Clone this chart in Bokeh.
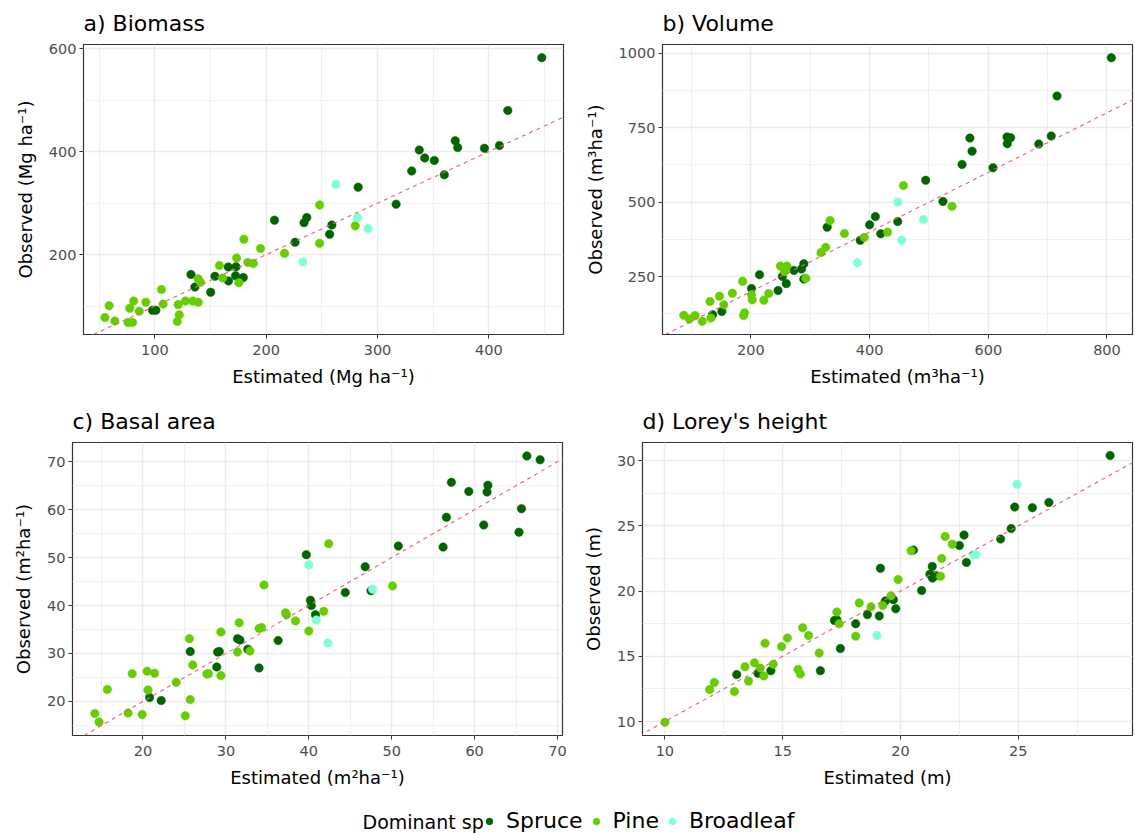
from bokeh.plotting import figure
from bokeh.models import FixedTicker, Slope, Legend, LegendItem, Range1d, Label
from bokeh.layouts import row, column
from bokeh.embed import file_html
from bokeh.resources import INLINE

SPRUCE_C = "#006400"
PINE_C = "#66CD00"
BROAD_C = "#7FFFD4"
LINE_C = "#EE5F72"
FONT = "DejaVu Sans"

legend_title = "Dominant sp"
species_labels = ["Spruce", "Pine", "Broadleaf"]

# ---------------- a) Biomass ----------------
bio_spruce_est = [447.5, 417, 369.8, 372, 396, 409.5, 337.5, 342.4, 351, 330.7, 360, 282.6, 316.7, 207.5, 236.5,
                  234, 259, 257, 226, 132.5, 136, 154, 150.2, 166, 173, 166.2, 172.5, 179.5, 98, 101]
bio_spruce_obs = [582.5, 480, 421, 408, 406.5, 411.7, 403, 387.7, 383, 362.5, 355, 331, 298, 267, 272,
                  262, 257.5, 239.5, 224, 161.5, 137, 158, 127, 176, 176.6, 149, 159, 155.5, 92, 92]
bio_pine_est = [248, 248, 280, 216.5, 195, 180, 173.5, 183.5, 188.5, 158, 161, 175.5, 139, 141, 106, 107.5,
                121, 127.5, 134, 139, 122, 120.2, 92, 81, 77.5, 86, 59, 55.2, 64.2, 76, 80]
bio_pine_obs = [296.5, 222, 256, 202.5, 212, 230, 193.3, 185, 183, 179, 154.6, 145.6, 153, 146.5, 132.3, 104,
                103, 110, 110, 107.6, 83.2, 70.2, 107.6, 110, 96, 90, 101, 77.8, 71.2, 68.4, 68.4]
bio_broad_est = [262.5, 282, 291.5, 233]
bio_broad_obs = [336, 272, 250.5, 186]

# ---------------- b) Volume ----------------
vol_spruce_est = [807.3, 715.8, 569, 572.7, 631.5, 637.6, 632, 706, 685, 555.8, 607.9, 494.5, 523.6, 409.7, 400,
                  447.3, 418.8, 384.2, 328.5, 135.4, 151, 201, 214.5, 245.7, 259.6, 253, 272.4, 285.2, 289.1, 289.1]
vol_spruce_obs = [984.5, 856, 715, 671, 718.6, 716.4, 696.4, 722, 695, 626.6, 615.6, 573.5, 502.6, 451.6, 424,
                  435, 394, 371.9, 416, 122.4, 133.5, 210, 256.7, 203.4, 226.7, 251, 271, 275.5, 293.3, 242]
vol_pine_est = [457, 538.8, 430.3, 391, 357.6, 333.3, 326, 318, 86.9, 96.4, 105.8, 118, 132.6, 131, 147, 154.3,
                168.8, 186, 187.7, 189.4, 201, 202.2, 221.7, 230, 249.6, 260.7, 256.8, 292.5]
vol_pine_obs = [555.7, 486, 399.5, 381.8, 395, 438.3, 348.6, 331, 120.2, 108, 120, 100.3, 111.4, 166.8, 184.6,
                155.7, 194.5, 234.5, 120, 129, 189, 172.4, 171, 193.4, 285.5, 285.5, 266.6, 244.5]
vol_broad_est = [447.3, 490.9, 454, 379.4]
vol_broad_obs = [500.4, 441.6, 371.9, 296.5]

# ---------------- c) Basal area ----------------
ba_spruce_est = [66.3, 67.9, 57.2, 59.3, 61.6, 61.5, 65.65, 56.6, 61.1, 65.35, 56.2, 50.8, 39.7, 46.8, 44.4,
                 47.5, 40.2, 40.3, 40.8, 36.3, 31.4, 31.7, 32.65, 29.0, 29.2, 25.7, 28.9, 34.0, 20.8, 22.2]
ba_spruce_obs = [71.2, 70.4, 65.7, 63.8, 65.1, 63.7, 60.2, 58.4, 56.8, 55.3, 52.2, 52.4, 50.6, 48.1, 42.7,
                 43.1, 41.1, 40.0, 38.1, 32.7, 33.1, 32.8, 30.9, 30.3, 30.4, 30.4, 27.2, 27.0, 20.8, 20.2]
ba_pine_est = [42.4, 50.1, 34.6, 41.8, 37.2, 37.3, 38.4, 40.0, 34.0, 34.3, 31.6, 29.4, 31.4, 32.9, 25.6, 26.0,
               27.7, 27.9, 29.4, 24.0, 25.7, 25.1, 20.5, 21.4, 18.7, 20.6, 15.7, 18.2, 19.9, 14.2, 14.7]
ba_pine_obs = [52.9, 44.1, 44.3, 38.8, 38.5, 38.1, 36.8, 34.7, 35.2, 35.4, 36.4, 34.5, 30.3, 30.5, 33.1, 27.6,
               25.7, 25.8, 25.4, 24.0, 20.4, 17.0, 26.3, 25.9, 25.8, 22.4, 22.5, 17.6, 17.3, 17.5, 15.7]
ba_broad_est = [40.0, 47.7, 40.9, 42.3]
ba_broad_obs = [48.5, 43.4, 37.0, 32.2]

# ---------------- d) Lorey's height ----------------
hl_spruce_est = [28.9, 26.3, 25.6, 24.85, 24.7, 24.25, 22.7, 22.5, 22.8, 20.55, 21.35, 21.25, 21.36, 21.5, 20.9,
                 19.15, 19.8, 19.36, 19.7, 19.1, 18.6, 18.1, 17.2, 17.3, 17.45, 16.6, 14.5, 13.95, 13.05]
hl_spruce_obs = [30.4, 26.8, 26.4, 26.45, 24.8, 24.0, 24.3, 23.5, 22.2, 23.15, 21.9, 21.3, 21.0, 21.2, 20.05,
                 21.75, 18.65, 19.25, 19.35, 18.1, 18.2, 17.5, 17.75, 17.8, 15.6, 13.9, 13.9, 13.7, 13.6]
hl_pine_est = [21.9, 22.2, 20.45, 21.75, 21.7, 19.9, 19.6, 19.25, 18.75, 18.25, 17.3, 17.4, 18.1, 15.85, 16.1,
               15.2, 14.95, 14.25, 16.55, 14.6, 13.8, 14.05, 14.2, 13.4, 13.55, 15.65, 15.75, 12.1, 11.9, 12.95, 10.0]
hl_pine_obs = [24.2, 23.6, 23.1, 22.5, 21.15, 20.9, 19.65, 18.9, 18.8, 19.1, 18.4, 17.5, 16.55, 17.2, 16.6,
               16.4, 15.75, 16.0, 15.25, 14.4, 14.5, 14.1, 13.5, 14.2, 13.1, 14.0, 13.65, 13.0, 12.45, 12.3, 9.95]
hl_broad_est = [24.95, 23.1, 23.2, 19.0]
hl_broad_obs = [28.2, 22.8, 22.8, 16.6]

# tick definitions
bio_xticks, bio_xminor = [100, 200, 300, 400], [50, 150, 250, 350, 450]
bio_yticks, bio_yminor = [200, 400, 600], [100, 300, 500]
vol_xticks, vol_xminor = [200, 400, 600, 800], [100, 300, 500, 700]
vol_yticks, vol_yminor = [250, 500, 750, 1000], [125, 375, 625, 875]
ba_xticks, ba_xminor = [20, 30, 40, 50, 60, 70], [15, 25, 35, 45, 55, 65]
ba_yticks, ba_yminor = [20, 30, 40, 50, 60, 70], [15, 25, 35, 45, 55, 65]
hl_xticks, hl_xminor = [10, 15, 20, 25], [12.5, 17.5, 22.5, 27.5]
hl_yticks, hl_yminor = [10, 15, 20, 25, 30], [12.5, 17.5, 22.5, 27.5]


def panel(title, xlab, ylab, xr, yr, xt, xm, yt, ym, series, width, height, mbl, mbr, mbt, mbb):
    p = figure(width=width, height=height, x_range=Range1d(*xr), y_range=Range1d(*yr),
               output_backend="svg", toolbar_location=None,
               min_border_left=mbl, min_border_right=mbr, min_border_top=mbt, min_border_bottom=mbb)
    p.title.text = title
    p.title.text_font = FONT
    p.title.text_font_size = "22px"
    p.title.text_font_style = "normal"
    p.title.text_color = "#000000"
    p.title.align = "left"
    p.title.standoff = 17
    p.background_fill_color = "white"
    p.border_fill_color = "white"
    p.outline_line_color = "#333333"
    p.outline_line_width = 1.2

    p.xaxis.ticker = FixedTicker(ticks=xt, minor_ticks=xm)
    p.yaxis.ticker = FixedTicker(ticks=yt, minor_ticks=ym)
    p.xaxis.axis_label = xlab
    p.yaxis.axis_label = ylab
    for ax in (p.xaxis, p.yaxis):
        ax.axis_line_color = None
        ax.major_tick_line_color = "#333333"
        ax.major_tick_out = 4
        ax.major_tick_in = 0
        ax.minor_tick_line_color = None
        ax.major_label_text_font = FONT
        ax.major_label_text_font_size = "14.5px"
        ax.major_label_text_color = "#4D4D4D"
        ax.axis_label_text_font = FONT
        ax.axis_label_text_font_size = "18px"
        ax.axis_label_text_font_style = "normal"
        ax.axis_label_text_color = "#000000"
    p.xaxis.major_label_standoff = 6
    p.yaxis.major_label_standoff = 3
    p.xaxis.axis_label_standoff = 8
    p.yaxis.axis_label_standoff = 10

    p.grid.grid_line_color = "#EBEBEB"
    p.grid.grid_line_width = 1.5
    p.grid.minor_grid_line_color = "#EFEFEF"
    p.grid.minor_grid_line_width = 1.0

    colors = [SPRUCE_C, PINE_C, BROAD_C]
    for (ex, ob), c in zip(series, colors):
        p.scatter(ex, ob, size=8.5, fill_color=c, line_color=c, line_width=0.5)
    p.add_layout(Slope(gradient=1, y_intercept=0, line_color=LINE_C, line_width=1.1, line_dash="4 4"))
    return p


pa = panel("a) Biomass", "Estimated (Mg ha\u207b\u00b9)", "Observed (Mg ha\u207b\u00b9)",
           (36, 467), (45, 608), bio_xticks, bio_xminor, bio_yticks, bio_yminor,
           [(bio_spruce_est, bio_spruce_obs), (bio_pine_est, bio_pine_obs), (bio_broad_est, bio_broad_obs)],
           580, 398, 83, 17, 44, 64)
pb = panel("b) Volume", "Estimated (m\u00b3ha\u207b\u00b9)", "Observed (m\u00b3ha\u207b\u00b9)",
           (51, 843), (56, 1029), vol_xticks, vol_xminor, vol_yticks, vol_yminor,
           [(vol_spruce_est, vol_spruce_obs), (vol_pine_est, vol_pine_obs), (vol_broad_est, vol_broad_obs)],
           554, 398, 82, 2, 44, 64)
pc = panel("c) Basal area", "Estimated (m\u00b2ha\u207b\u00b9)", "Observed (m\u00b2ha\u207b\u00b9)",
           (11.5, 70.6), (12.9, 74.0), ba_xticks, ba_xminor, ba_yticks, ba_yminor,
           [(ba_spruce_est, ba_spruce_obs), (ba_pine_est, ba_pine_obs), (ba_broad_est, ba_broad_obs)],
           580, 394, 72, 18, 44, 57)
pd_ = panel("d) Lorey's height", "Estimated (m)", "Observed (m)",
            (9.05, 29.85), (8.93, 31.4), hl_xticks, hl_xminor, hl_yticks, hl_yminor,
            [(hl_spruce_est, hl_spruce_obs), (hl_pine_est, hl_pine_obs), (hl_broad_est, hl_broad_obs)],
            554, 394, 58, 2, 44, 57)

# legend strip (legend renderers hold a single NaN point so nothing is drawn in the frame)
pl = figure(width=1134, height=41, output_backend="svg", toolbar_location=None,
            x_range=Range1d(0, 1), y_range=Range1d(0, 1), min_border=0)
pl.axis.visible = False
pl.grid.visible = False
pl.outline_line_color = None
rends = []
for c in [SPRUCE_C, PINE_C, BROAD_C]:
    rends.append(pl.scatter(x=[float("nan")], y=[float("nan")], size=9, fill_color=c, line_color=c))
leg = Legend(items=[LegendItem(label=lab, renderers=[r], index=0) for lab, r in zip(species_labels, rends)],
             orientation="horizontal", location=(481, 0),
             label_text_font=FONT, label_text_font_size="22px", label_text_color="#000000",
             glyph_width=16, glyph_height=16, label_standoff=9, spacing=5, padding=0, margin=0,
             border_line_color=None, background_fill_alpha=0)
pl.add_layout(leg)
pl.add_layout(Label(x=362, y=12, x_units="screen", y_units="screen", text=legend_title,
                    text_font=FONT, text_font_size="19px", text_baseline="middle", text_color="#000000"))

layout = column(row(pa, pb), row(pc, pd_), pl)
with open("out.html", "w") as f:
    f.write(file_html(layout, INLINE))
